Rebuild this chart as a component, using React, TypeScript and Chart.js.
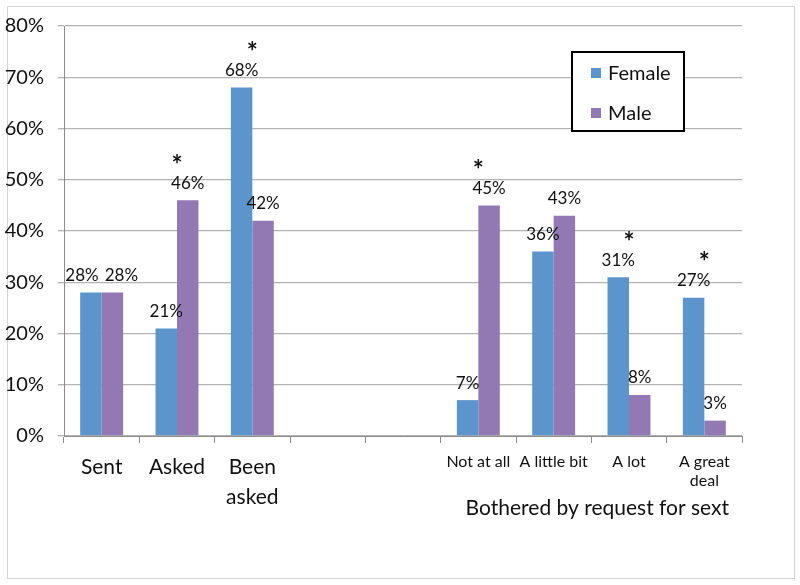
import React, { useEffect, useRef } from "react";
import { Chart, registerables } from "chart.js";

Chart.register(...registerables);

const categories: (string | string[])[] = [
  "Sent",
  "Asked",
  ["Been", "asked"],
  "",
  "",
  "Not at all",
  "A little bit",
  "A lot",
  ["A great", "deal"],
];
const femaleValues: (number | null)[] = [28, 21, 68, null, null, 7, 36, 31, 27];
const maleValues: (number | null)[] = [28, 46, 42, null, null, 45, 43, 8, 3];
const significant: boolean[] = [false, true, true, false, false, true, false, true, true];
const yTicks: number[] = [0, 10, 20, 30, 40, 50, 60, 70, 80];
const seriesNames = ["Female", "Male"];
const axisTitle = "Bothered by request for sext";

const FONT = "Lato, 'Liberation Sans', sans-serif";
const BLUE = "#5b95cb";
const PURPLE = "#9279b3";

const overlayPlugin = {
  id: "overlay",
  afterDatasetsDraw(chart: any) {
    const { ctx } = chart;
    const x = chart.scales.x;
    const y = chart.scales.y;
    ctx.save();
    // value labels with simple collision avoidance between the two bars of a group
    ctx.font = `17px ${FONT}`;
    ctx.fillStyle = "#111";
    ctx.textAlign = "center";
    ctx.textBaseline = "middle";
    const metaF = chart.getDatasetMeta(0);
    const metaM = chart.getDatasetMeta(1);
    const dsF = chart.data.datasets[0].data;
    const dsM = chart.data.datasets[1].data;
    dsF.forEach((_: any, i: number) => {
      const vF = dsF[i];
      const vM = dsM[i];
      const bF = metaF.data[i];
      const bM = metaM.data[i];
      let xF = bF.x, xM = bM.x;
      const yF = bF.y - 17, yM = bM.y - 17;
      if (vF != null && vM != null) {
        const wF = ctx.measureText(`${vF}%`).width;
        const wM = ctx.measureText(`${vM}%`).width;
        if (Math.abs(yF - yM) < 16) {
          const need = (wF + wM) / 2 + 6 - (xM - xF);
          if (need > 0) {
            xF -= need / 2;
            xM += need / 2;
          }
        }
      }
      if (vF != null) ctx.fillText(`${vF}%`, xF, yF);
      if (vM != null) ctx.fillText(`${vM}%`, xM, yM);
    });
    // significance asterisks
    significant.forEach((s, i) => {
      if (!s) return;
      const vals = chart.data.datasets.map((d: any) => d.data[i] ?? 0);
      const top = y.getPixelForValue(Math.max(...vals));
      ctx.font = `bold 26px ${FONT}`;
      ctx.fillStyle = "#111";
      ctx.textAlign = "center";
      ctx.textBaseline = "middle";
      ctx.fillText("*", x.getPixelForValue(i), top - 35);
    });
    // axis title under the right group
    const cx = (x.getPixelForValue(5) + x.getPixelForValue(8)) / 2 + 6;
    ctx.font = `21px ${FONT}`;
    ctx.fillStyle = "#111";
    ctx.textAlign = "center";
    ctx.textBaseline = "middle";
    ctx.fillText(axisTitle, cx, 508);
    // legend
    const lx = 572, ly = 52, lw = 112, lh = 79;
    ctx.fillStyle = "#fff";
    ctx.fillRect(lx, ly, lw, lh);
    ctx.lineWidth = 2;
    ctx.strokeStyle = "#000";
    ctx.strokeRect(lx, ly, lw, lh);
    chart.data.datasets.forEach((ds: any, di: number) => {
      const iy = ly + 21 + di * 40;
      ctx.fillStyle = ds.backgroundColor;
      ctx.fillRect(lx + 19, iy - 5, 10, 10);
      ctx.fillStyle = "#111";
      ctx.font = `20px ${FONT}`;
      ctx.textAlign = "left";
      ctx.textBaseline = "middle";
      ctx.fillText(ds.label, lx + 36, iy + 1);
    });
    ctx.restore();
  },
};

export default function App() {
  const ref = useRef<HTMLCanvasElement | null>(null);
  useEffect(() => {
    if (!ref.current) return;
    const chart = new Chart(ref.current, {
      type: "bar",
      data: {
        labels: categories,
        datasets: [
          { label: seriesNames[0], data: femaleValues, backgroundColor: BLUE },
          { label: seriesNames[1], data: maleValues, backgroundColor: PURPLE },
        ],
      },
      options: {
        animation: false,
        responsive: false,
        devicePixelRatio: 1,
        layout: { padding: { left: 0, right: 58, top: 23, bottom: 0 } },
        plugins: { legend: { display: false }, tooltip: { enabled: false } },
        datasets: { bar: { categoryPercentage: 0.57, barPercentage: 1 } },
        scales: {
          x: {
            offset: true,
            grid: {
              offset: true,
              drawOnChartArea: false,
              drawTicks: true,
              tickLength: 7,
              color: "#8c8c8c",
            },
            border: { color: "#8c8c8c", width: 1 },
            ticks: {
              color: "#111",
              padding: 9,
              autoSkip: false,
              maxRotation: 0,
              font: (c: any) =>
                c.index < 3
                  ? { family: FONT, size: 21, lineHeight: 1.45 }
                  : { family: FONT, size: 16, lineHeight: 1.2 },
            },
            afterFit: (s: any) => {
              s.height = 585 - 436;
            },
          },
          y: {
            min: 0,
            max: 80,
            afterBuildTicks: (s: any) => {
              s.ticks = yTicks.map((v) => ({ value: v }));
            },
            grid: { color: "#b3b3b3", tickLength: 6, lineWidth: 1.3 },
            border: { color: "#8c8c8c", width: 1 },
            ticks: {
              color: "#111",
              padding: 14,
              font: { family: FONT, size: 20 },
              callback: (v: any) => `${v}%`,
            },
            afterFit: (s: any) => {
              s.width = 64;
            },
          },
        },
      },
      plugins: [overlayPlugin],
    });
    return () => chart.destroy();
  }, []);
  return (
    <div style={{ position: "fixed", left: 0, top: 0, width: 800, height: 585, background: "#fff" }}>
      <div
        style={{
          position: "absolute",
          left: 7,
          top: 6,
          width: 786,
          height: 571,
          border: "1px solid #d4d4d4",
        }}
      />
      <canvas ref={ref} width={800} height={585} style={{ position: "absolute", left: 0, top: 0 }} />
    </div>
  );
}
